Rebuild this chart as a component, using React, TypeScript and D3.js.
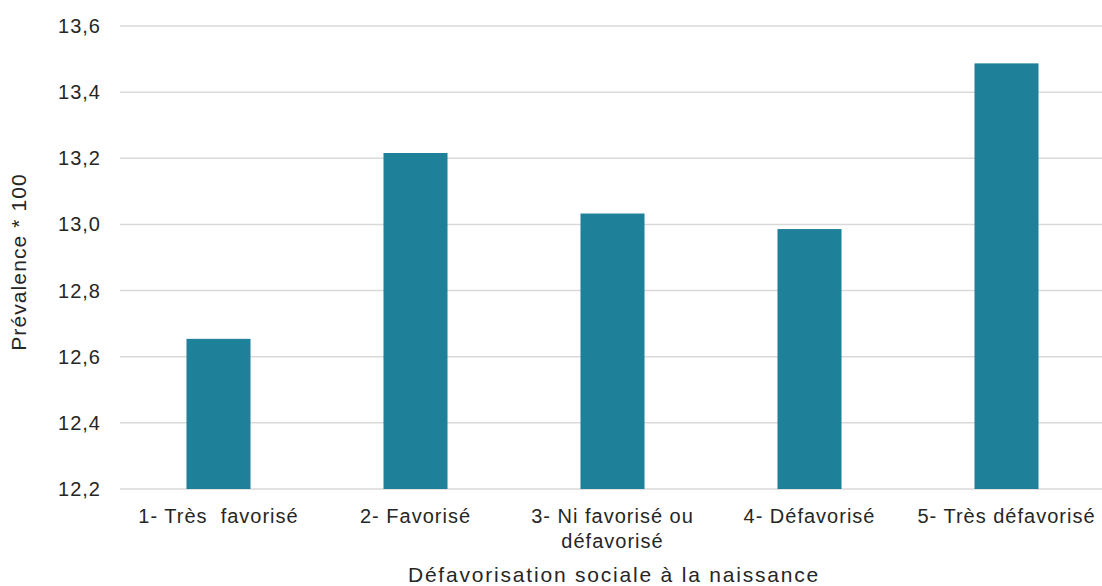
import React from "react";
import * as d3 from "d3";

const categories: string[][] = [
  ["1- Très\u00a0 favorisé"],
  ["2- Favorisé"],
  ["3- Ni favorisé ou", "défavorisé"],
  ["4- Défavorisé"],
  ["5- Très défavorisé"],
];
const values: number[] = [12.654, 13.216, 13.033, 12.986, 13.487];
const yTicks: number[] = [12.2, 12.4, 12.6, 12.8, 13.0, 13.2, 13.4, 13.6];

const W = 1102;
const H = 586;
const left = 120;
const right = 1105;
const top = 26;
const bottom = 489;

export default function App() {
  const x = d3
    .scaleBand<number>()
    .domain(d3.range(values.length))
    .range([left, right])
    .paddingInner(0.675)
    .paddingOuter(0.3375);
  const y = d3.scaleLinear().domain([12.2, 13.6]).range([bottom, top]);
  const fmt = (v: number) => v.toFixed(1).replace(".", ",");
  const font = "'Liberation Sans', Arial, sans-serif";

  return (
    <svg
      width={W}
      height={H}
      style={{ position: "absolute", left: 0, top: 0, display: "block" }}
      fontFamily={font}
    >
      <rect width={W} height={H} fill="#ffffff" />
      {yTicks.map((t) => (
        <g key={t}>
          <line
            x1={left}
            x2={right}
            y1={y(t)}
            y2={y(t)}
            stroke="#d9d9d9"
            strokeWidth={1.5}
          />
          <text
            x={101}
            y={y(t)}
            dy="0.35em"
            textAnchor="end"
            fontSize={20}
            letterSpacing={1}
            fill="#262626"
          >
            {fmt(t)}
          </text>
        </g>
      ))}
      {values.map((v, i) => (
        <rect
          key={i}
          x={x(i)}
          y={y(v)}
          width={x.bandwidth()}
          height={bottom - y(v)}
          fill="#1f8099"
        />
      ))}
      {categories.map((lines, i) => (
        <text
          key={i}
          x={(x(i) as number) + x.bandwidth() / 2}
          y={523}
          textAnchor="middle"
          fontSize={20}
          letterSpacing={1}
          fill="#262626"
        >
          {lines.map((l, j) => (
            <tspan key={j} x={(x(i) as number) + x.bandwidth() / 2} dy={j === 0 ? 0 : 25}>
              {l}
            </tspan>
          ))}
        </text>
      ))}
      <text
        x={614}
        y={582}
        textAnchor="middle"
        fontSize={21}
        letterSpacing={1.8}
        fill="#262626"
      >
        Défavorisation sociale à la naissance
      </text>
      <text
        transform={`translate(26, 262) rotate(-90)`}
        textAnchor="middle"
        fontSize={21}
        letterSpacing={1.1}
        fill="#262626"
      >
        Prévalence * 100
      </text>
    </svg>
  );
}
